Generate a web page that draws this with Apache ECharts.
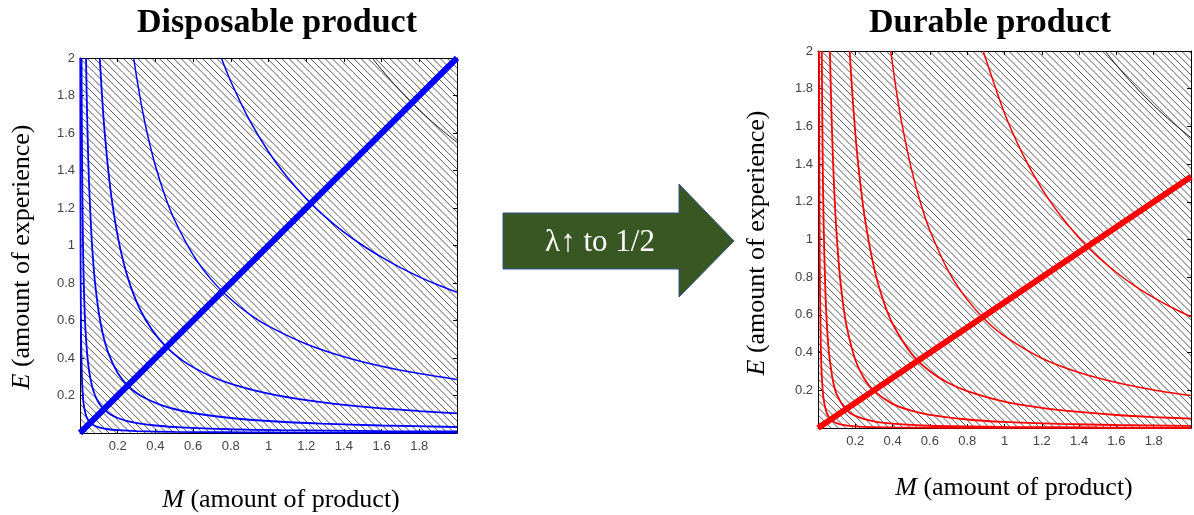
<!DOCTYPE html>
<html>
<head>
<meta charset="utf-8">
<script src="https://cdn.jsdelivr.net/npm/echarts@6/dist/echarts.min.js"></script>
<style>
html,body{margin:0;padding:0;background:#fff;}
#main{width:1194px;height:515px;}
</style>
</head>
<body>
<div id="main"></div>
<script>
// tick labels
var xTickLabels = ['0.2','0.4','0.6','0.8','1','1.2','1.4','1.6','1.8'];
var yTickLabels = ['0.2','0.4','0.6','0.8','1','1.2','1.4','1.6','1.8','2'];

// Disposable product (M, E)
var dispPath = [[0,0],[2,2]];
var dispCurve1 = [[0.75,2],[0.8,1.875],[0.9,1.667],[1,1.5],[1.1,1.364],[1.2,1.25],[1.3,1.154],[1.4,1.071],[1.5,1],[1.6,0.938],[1.7,0.882],[1.8,0.833],[1.9,0.789],[2,0.75]];
var dispCurve2 = [[0.285,2],[0.3,1.9],[0.33,1.727],[0.36,1.583],[0.4,1.425],[0.45,1.267],[0.5,1.14],[0.6,0.95],[0.7,0.814],[0.8,0.713],[0.9,0.633],[1,0.57],[1.2,0.475],[1.4,0.407],[1.6,0.356],[1.8,0.317],[2,0.285]];
var dispCurve3 = [[0.105,2],[0.11,1.909],[0.12,1.75],[0.13,1.615],[0.15,1.4],[0.17,1.235],[0.2,1.05],[0.23,0.913],[0.27,0.778],[0.32,0.656],[0.38,0.553],[0.45,0.467],[0.55,0.382],[0.7,0.3],[0.85,0.247],[1,0.21],[1.2,0.175],[1.4,0.15],[1.6,0.131],[1.8,0.117],[2,0.105]];
var dispCurve4 = [[0.032,2],[0.035,1.829],[0.04,1.6],[0.045,1.422],[0.05,1.28],[0.06,1.067],[0.07,0.914],[0.08,0.8],[0.1,0.64],[0.12,0.533],[0.15,0.427],[0.2,0.32],[0.253,0.253],[0.32,0.2],[0.427,0.15],[0.533,0.12],[0.64,0.1],[0.8,0.08],[1,0.064],[1.28,0.05],[1.6,0.04],[2,0.032]];
var dispCurve5 = [[0.008,2],[0.009,1.778],[0.01,1.6],[0.012,1.333],[0.015,1.067],[0.02,0.8],[0.025,0.64],[0.03,0.533],[0.04,0.4],[0.05,0.32],[0.065,0.246],[0.08,0.2],[0.1,0.16],[0.126,0.127],[0.16,0.1],[0.2,0.08],[0.246,0.065],[0.32,0.05],[0.4,0.04],[0.533,0.03],[0.8,0.02],[1.067,0.015],[1.6,0.01],[2,0.008]];
var dispCurve6 = [[0.0015,2],[0.002,1.5],[0.003,1],[0.004,0.75],[0.006,0.5],[0.01,0.3],[0.015,0.2],[0.02,0.15],[0.03,0.1],[0.04,0.075],[0.055,0.055],[0.075,0.04],[0.1,0.03],[0.15,0.02],[0.2,0.015],[0.3,0.01],[0.5,0.006],[0.75,0.004],[1,0.003],[1.5,0.002],[2,0.0015]];
var dispBound = [[1.55,2],[1.6,1.938],[1.7,1.824],[1.8,1.722],[1.9,1.632],[2,1.55]];

// Durable product (M, E)
var durPath = [[0,0],[2,1.333]];
var durCurve1 = [[0.886,2],[0.9,1.956],[1,1.67],[1.1,1.448],[1.2,1.27],[1.3,1.127],[1.4,1.008],[1.5,0.909],[1.6,0.825],[1.7,0.753],[1.8,0.692],[1.9,0.638],[2,0.59]];
var durCurve2 = [[0.39,2],[0.42,1.789],[0.45,1.613],[0.5,1.377],[0.55,1.194],[0.6,1.048],[0.7,0.831],[0.8,0.681],[0.9,0.57],[1,0.487],[1.2,0.37],[1.4,0.294],[1.6,0.241],[1.8,0.202],[2,0.172]];
var durCurve3 = [[0.17,2],[0.18,1.833],[0.2,1.565],[0.22,1.357],[0.25,1.12],[0.3,0.852],[0.35,0.676],[0.4,0.553],[0.5,0.396],[0.6,0.301],[0.7,0.239],[0.8,0.196],[1,0.14],[1.2,0.107],[1.4,0.085],[1.6,0.069],[1.8,0.058],[2,0.05]];
var durCurve4 = [[0.064,2],[0.07,1.749],[0.08,1.432],[0.09,1.2],[0.1,1.025],[0.12,0.779],[0.15,0.558],[0.2,0.362],[0.25,0.259],[0.3,0.197],[0.4,0.128],[0.5,0.092],[0.6,0.07],[0.8,0.045],[1,0.032],[1.3,0.022],[1.6,0.016],[2,0.011]];
var durCurve5 = [[0.0201,2],[0.025,1.442],[0.03,1.097],[0.04,0.713],[0.05,0.51],[0.06,0.388],[0.08,0.252],[0.1,0.18],[0.15,0.098],[0.2,0.064],[0.3,0.035],[0.4,0.023],[0.6,0.012],[1,0.006],[1.5,0.003],[2,0.002]];
var durCurve6 = [[0.0055,2],[0.008,1.12],[0.01,0.8],[0.015,0.435],[0.02,0.283],[0.03,0.154],[0.05,0.072],[0.08,0.035],[0.12,0.019],[0.2,0.009],[0.4,0.003],[1,0.0008],[2,0.0003]];
var durBound = [[1.54,2],[1.6,1.925],[1.7,1.812],[1.8,1.711],[1.9,1.621],[2,1.54]];

// hatch pattern (diagonal "\" lines)
var tile = document.createElement('canvas');
tile.width = 36; tile.height = 36;
var tc = tile.getContext('2d');
tc.strokeStyle = '#444';
tc.lineWidth = 0.9;
for (var k = 0; k <= 10; k++) {
    var o = k * 7.2 - 36;
    tc.beginPath();
    tc.moveTo(o, 0);
    tc.lineTo(o + 36, 36);
    tc.stroke();
}
var hatch = {image: tile, repeat: 'repeat'};

function fmt(list){
    return function(v){
        var s = String(+v.toFixed(1));
        return list.indexOf(s) >= 0 ? s : '';
    };
}

function xAx(gi, pos){
    return {
        gridIndex: gi, type: 'value', min: 0, max: 2, interval: 0.2, position: pos,
        axisLine: {onZero: false, lineStyle: {color: '#000', width: 1}},
        axisTick: {inside: true, length: 4, lineStyle: {color: '#000'}},
        axisLabel: {show: pos == 'bottom', margin: 7, color: '#444', fontSize: 13,
            fontFamily: 'Liberation Sans', formatter: fmt(xTickLabels)},
        splitLine: {show: false}
    };
}
function yAx(gi, pos){
    return {
        gridIndex: gi, type: 'value', min: 0, max: 2, interval: 0.2, position: pos,
        axisLine: {onZero: false, lineStyle: {color: '#000', width: 1}},
        axisTick: {inside: true, length: 4, lineStyle: {color: '#000'}},
        axisLabel: {show: pos == 'left', margin: 5, color: '#444', fontSize: 13,
            fontFamily: 'Liberation Sans', formatter: fmt(yTickLabels)},
        splitLine: {show: false}
    };
}

function curve(data, color, width, ai){
    return {
        type: 'line', xAxisIndex: ai, yAxisIndex: ai, data: data,
        showSymbol: false, smooth: 0.3, silent: true,
        lineStyle: {color: color, width: width}
    };
}

function label(text, x, y, rot){
    return {type: 'text', x: x, y: y, rotation: rot || 0, style: {text: text,
        align: 'center', verticalAlign: 'middle', fontFamily: 'Liberation Serif', fontSize: 26, fill: '#000',
        rich: {i: {fontStyle: 'italic', fontFamily: 'Liberation Serif', fontSize: 26}}}};
}

var blue = '#0000ff', red = '#ff0000';

var option = {
    animation: false,
    grid: [
        {left: 80, top: 58, width: 377, height: 375, show: true, backgroundColor: hatch, borderWidth: 0},
        {left: 818, top: 51, width: 377, height: 377, show: true, backgroundColor: hatch, borderWidth: 0}
    ],
    xAxis: [xAx(0,'bottom'), xAx(0,'top'), xAx(1,'bottom'), xAx(1,'top')],
    yAxis: [yAx(0,'left'), yAx(0,'right'), yAx(1,'left'), yAx(1,'right')],
    series: [
        curve(dispBound, '#111', 1, 0),
        curve(dispCurve1, blue, 1.5, 0),
        curve(dispCurve2, blue, 1.5, 0),
        curve(dispCurve3, blue, 1.8, 0),
        curve(dispCurve4, blue, 1.8, 0),
        curve(dispCurve5, blue, 1.8, 0),
        curve(dispCurve6, blue, 1.8, 0),
        curve(dispPath, blue, 6, 0),
        curve(durBound, '#111', 1, 2),
        curve(durCurve1, red, 1.5, 2),
        curve(durCurve2, red, 1.5, 2),
        curve(durCurve3, red, 1.8, 2),
        curve(durCurve4, red, 1.8, 2),
        curve(durCurve5, red, 1.8, 2),
        curve(durCurve6, red, 1.8, 2),
        curve(durPath, red, 6, 2)
    ],
    graphic: [
        {type: 'text', x: 277, y: 23, style: {text: 'Disposable product', align: 'center', verticalAlign: 'middle',
            fontFamily: 'Liberation Serif', fontWeight: 'bold', fontSize: 34, fill: '#000'}},
        {type: 'text', x: 990, y: 23, style: {text: 'Durable product', align: 'center', verticalAlign: 'middle',
            fontFamily: 'Liberation Serif', fontWeight: 'bold', fontSize: 34, fill: '#000'}},
        label('{i|E} (amount of experience)', 22, 257, Math.PI / 2),
        label('{i|E} (amount of experience)', 757, 243, Math.PI / 2),
        label('{i|M} (amount of product)', 281, 500),
        label('{i|M} (amount of product)', 1014, 488),
        // arrow
        {type: 'polygon', shape: {points: [[503,213],[679,213],[679,184],[734,241],[679,297],[679,269],[503,269]]},
            style: {fill: '#385723', stroke: '#2f528f', lineWidth: 1}},
        {type: 'text', x: 600, y: 243, style: {text: 'λ↑ to 1/2', align: 'center', verticalAlign: 'middle',
            fontFamily: 'Liberation Serif', fontSize: 31, fill: '#fff'}}
    ]
};

var chart = echarts.init(document.getElementById('main'));
chart.setOption(option);
</script>
</body>
</html>
